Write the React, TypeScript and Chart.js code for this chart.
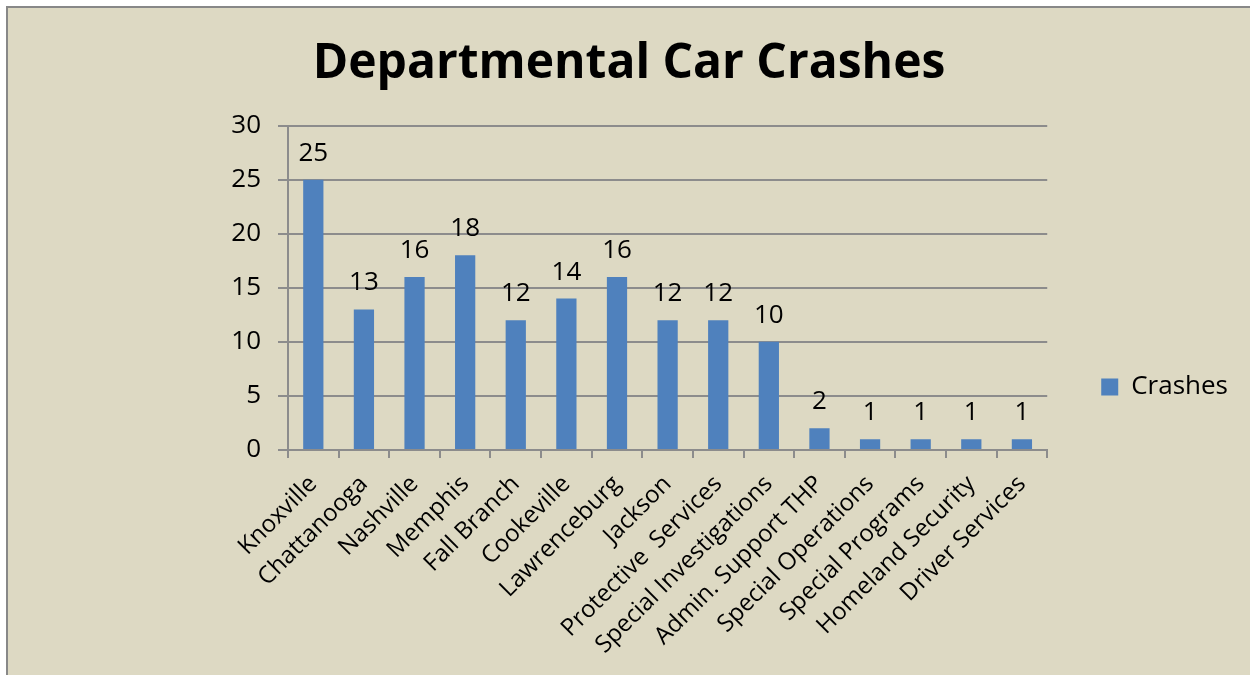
import React, { useEffect, useRef } from "react";
import { Chart, registerables } from "chart.js";

Chart.register(...registerables);

const TITLE = "Departmental Car Crashes";
const SERIES_NAME = "Crashes";
const categories = [
  "Knoxville",
  "Chattanooga",
  "Nashville",
  "Memphis",
  "Fall Branch",
  "Cookeville",
  "Lawrenceburg",
  "Jackson",
  "Protective  Services",
  "Special Investigations",
  "Admin. Support THP",
  "Special Operations",
  "Special Programs",
  "Homeland Security",
  "Driver Services",
];
const crashes = [25, 13, 16, 18, 12, 14, 16, 12, 12, 10, 2, 1, 1, 1, 1];
const yMin = 0;
const yMax = 30;
const yStep = 5;

const FONT = "'Open Sans', 'Noto Sans', sans-serif";
const BAR_COLOR = "#4F81BD";
const GRID_COLOR = "#8C8C8C";

const valueLabels = {
  id: "valueLabels",
  afterDatasetsDraw(chart: any) {
    const ctx = chart.ctx;
    ctx.save();
    ctx.font = `26px ${FONT}`;
    ctx.fillStyle = "#000";
    ctx.textAlign = "center";
    ctx.textBaseline = "alphabetic";
    chart.data.datasets.forEach((ds: any, di: number) => {
      const meta = chart.getDatasetMeta(di);
      meta.data.forEach((bar: any, i: number) => {
        ctx.fillText(String(ds.data[i]), bar.x, bar.y - 19);
      });
    });
    ctx.restore();
  },
};

const legendShift = {
  id: "legendShift",
  afterLayout(chart: any) {
    const lg = chart.legend;
    if (!lg) return;
    const c = (lg.top + lg.bottom) / 2;
    const d = 379 - c;
    lg.top += d;
    lg.bottom += d;
    lg.left -= 12;
    lg.right -= 12;
  },
};

export default function App() {
  const ref = useRef<HTMLCanvasElement | null>(null);

  useEffect(() => {
    if (!ref.current) return;
    const chart = new Chart(ref.current, {
      type: "bar",
      data: {
        labels: categories,
        datasets: [
          {
            label: SERIES_NAME,
            data: crashes,
            backgroundColor: BAR_COLOR,
            borderWidth: 0,
            barPercentage: 0.4,
            categoryPercentage: 1,
          },
        ],
      },
      options: {
        animation: false,
        responsive: false,
        maintainAspectRatio: false,
        layout: { padding: { left: 0, right: 0, top: 0, bottom: 0 } },
        plugins: {
          title: {
            display: true,
            text: TITLE,
            color: "#000",
            font: { family: FONT, size: 48, weight: "bold" },
            padding: { top: 28, bottom: 32 },
          },
          legend: {
            position: "right",
            labels: {
              color: "#000",
              font: { family: FONT, size: 26 },
              boxWidth: 17,
              boxHeight: 17,
              padding: 66,
            },
          },
          tooltip: { enabled: false },
        },
        scales: {
          x: {
            afterFit: (s: any) => {
              s.height = 225;
            },
            grid: {
              display: true,
              drawOnChartArea: false,
              drawTicks: true,
              tickLength: 8,
              color: GRID_COLOR,
              lineWidth: 2,
              offset: true,
            },
            border: { display: true, color: GRID_COLOR, width: 2 },
            ticks: {
              color: "#000",
              font: { family: FONT, size: 24 },
              minRotation: 45,
              maxRotation: 45,
              autoSkip: false,
              padding: 12,
            },
          },
          y: {
            min: yMin,
            max: yMax,
            afterFit: (s: any) => {
              s.width = 280;
            },
            grid: {
              color: GRID_COLOR,
              lineWidth: 2,
              tickLength: 10,
              drawTicks: true,
            },
            border: { display: true, color: GRID_COLOR, width: 2 },
            ticks: {
              stepSize: yStep,
              color: "#000",
              font: { family: FONT, size: 26 },
              padding: 17,
            },
          },
        },
      },
      plugins: [valueLabels, legendShift],
    });
    return () => chart.destroy();
  }, []);

  return (
    <div
      style={{
        position: "absolute",
        left: 6,
        top: 6,
        width: 1242,
        height: 667,
        borderLeft: "2px solid #888888",
        borderTop: "2px solid #888888",
        background: "#DDD9C3",
        overflow: "hidden",
      }}
    >
      <canvas ref={ref} width={1242} height={667} style={{ display: "block" }} />
    </div>
  );
}
